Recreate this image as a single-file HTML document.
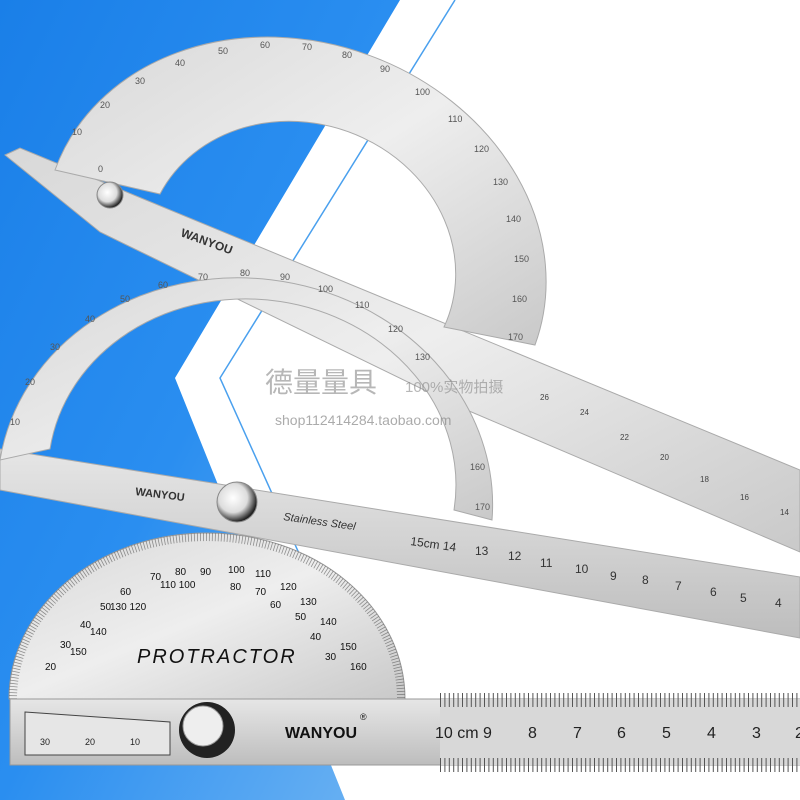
<!DOCTYPE html>
<html><head><style>
html,body{margin:0;padding:0;background:#fff;}
svg{display:block}
text{font-family:"Liberation Sans",sans-serif;}
</style></head><body>
<svg width="800" height="800" viewBox="0 0 800 800" xmlns="http://www.w3.org/2000/svg">
<defs>
<linearGradient id="bg" x1="0" y1="0" x2="1" y2="1">
<stop offset="0" stop-color="#1a7fe8"/><stop offset="0.5" stop-color="#2a8ef0"/><stop offset="1" stop-color="#6fb4f3"/>
</linearGradient>
<linearGradient id="steel" x1="0" y1="0" x2="1" y2="1">
<stop offset="0" stop-color="#d8d8d8"/><stop offset="0.5" stop-color="#eeeeee"/><stop offset="1" stop-color="#c9c9c9"/>
</linearGradient>
<linearGradient id="steel2" x1="0" y1="0" x2="0" y2="1">
<stop offset="0" stop-color="#e6e6e6"/><stop offset="0.5" stop-color="#d2d2d2"/><stop offset="1" stop-color="#bdbdbd"/>
</linearGradient>
<radialGradient id="knob" cx="0.4" cy="0.4" r="0.6">
<stop offset="0" stop-color="#fff"/><stop offset="0.6" stop-color="#ddd"/><stop offset="1" stop-color="#222"/>
</radialGradient>
</defs>
<rect width="800" height="800" fill="#fff"/>
<polygon points="0,0 400,0 175,378 345,800 0,800" fill="url(#bg)"/>
<polyline points="455,0 220,378 320,600" fill="none" stroke="#4aa0ee" stroke-width="1.5"/>

<!-- top protractor arm -->
<polygon points="5,155 20,148 800,470 800,552 455,405 100,232" fill="url(#steel)" stroke="#aaa"/>
<!-- top protractor semicircle band -->
<path d="M 55 170 A 255 215 20 0 1 535 345 L 444 327 A 157 140 20 0 0 160 194 Z" fill="url(#steel)" stroke="#aaa"/>
<g font-size="9" fill="#555">
<text x="98" y="172">0</text><text x="72" y="135">10</text><text x="100" y="108">20</text><text x="135" y="84">30</text><text x="175" y="66">40</text><text x="218" y="54">50</text><text x="260" y="48">60</text><text x="302" y="50">70</text><text x="342" y="58">80</text><text x="380" y="72">90</text><text x="415" y="95">100</text><text x="448" y="122">110</text><text x="474" y="152">120</text><text x="493" y="185">130</text><text x="506" y="222">140</text><text x="514" y="262">150</text><text x="512" y="302">160</text><text x="508" y="340">170</text>
</g>
<circle cx="110" cy="195" r="13" fill="url(#knob)" stroke="#888"/>
<text x="180" y="236" font-size="12" font-weight="bold" fill="#333" font-family="Liberation Serif" transform="rotate(20 180 236)">WANYOU</text>
<g font-size="8" fill="#444">
<text x="540" y="400">26</text><text x="580" y="415">24</text><text x="620" y="440">22</text><text x="660" y="460">20</text><text x="700" y="482">18</text><text x="740" y="500">16</text><text x="780" y="515">14</text>
</g>

<!-- middle arm -->
<polygon points="0,449 800,577 800,638 0,490" fill="url(#steel2)" stroke="#aaa"/>
<!-- middle semicircle band -->
<path d="M 0 460 A 248 220 7 0 1 492 520 L 454 510 A 204 180 7 0 0 50 449 Z" fill="url(#steel)" stroke="#aaa"/>
<g font-size="9" fill="#555">
<text x="10" y="425">10</text><text x="25" y="385">20</text><text x="50" y="350">30</text><text x="85" y="322">40</text><text x="120" y="302">50</text><text x="158" y="288">60</text><text x="198" y="280">70</text><text x="240" y="276">80</text><text x="280" y="280">90</text><text x="318" y="292">100</text><text x="355" y="308">110</text><text x="388" y="332">120</text><text x="415" y="360">130</text><text x="470" y="470">160</text><text x="475" y="510">170</text>
</g>
<circle cx="237" cy="502" r="20" fill="url(#knob)" stroke="#888"/>
<text x="135" y="495" font-size="11" font-weight="bold" fill="#333" font-family="Liberation Serif" transform="rotate(7 135 495)">WANYOU</text>
<text x="283" y="520" font-size="11" font-style="italic" fill="#333" transform="rotate(8 283 520)">Stainless  Steel</text>
<g font-size="12" fill="#333">
<text x="410" y="545" transform="rotate(8 410 545)">15cm 14</text><text x="475" y="555">13</text><text x="508" y="560">12</text><text x="540" y="567">11</text><text x="575" y="573">10</text><text x="610" y="580">9</text><text x="642" y="584">8</text><text x="675" y="590">7</text><text x="710" y="596">6</text><text x="740" y="602">5</text><text x="775" y="607">4</text>
</g>

<!-- bottom protractor -->
<path d="M 9 699 A 198 166 0 0 1 405 699 Z" fill="url(#steel)" stroke="#999"/>
<path d="M 13 699 A 194 162 0 0 1 401 699" fill="none" stroke="#444" stroke-width="8" stroke-dasharray="0.8 2.2" opacity="0.55"/>
<g font-size="10" fill="#111">
<text x="200" y="575">90</text><text x="228" y="573">100</text><text x="255" y="577">110</text><text x="175" y="575">80</text><text x="150" y="580">70</text><text x="120" y="595">60</text><text x="100" y="610">50</text><text x="80" y="628">40</text><text x="60" y="648">30</text><text x="45" y="670">20</text>
<text x="160" y="588">110 100</text><text x="110" y="610">130 120</text><text x="90" y="635">140</text><text x="70" y="655">150</text>
<text x="280" y="590">120</text><text x="300" y="605">130</text><text x="320" y="625">140</text><text x="340" y="650">150</text><text x="350" y="670">160</text>
<text x="230" y="590">80</text><text x="255" y="595">70</text><text x="270" y="608">60</text><text x="295" y="620">50</text><text x="310" y="640">40</text><text x="325" y="660">30</text>
</g>
<text x="137" y="663" font-size="20" font-style="italic" fill="#111" letter-spacing="2">PROTRACTOR</text>
<rect x="10" y="699" width="790" height="66" fill="url(#steel2)" stroke="#999"/>
<polygon points="25,712 170,722 170,755 25,755" fill="#e6e6e6" stroke="#444"/>
<circle cx="207" cy="730" r="28" fill="#222"/>
<circle cx="203" cy="726" r="20" fill="#eee" stroke="#999"/>
<text x="285" y="738" font-size="16" font-weight="bold" fill="#111" font-family="Liberation Serif">WANYOU</text>
<text x="360" y="720" font-size="9" fill="#111">®</text>
<rect x="440" y="699" width="360" height="66" fill="#d8d8d8"/>
<g font-size="16" fill="#222">
<text x="435" y="738">10 cm 9</text><text x="528" y="738">8</text><text x="573" y="738">7</text><text x="617" y="738">6</text><text x="662" y="738">5</text><text x="707" y="738">4</text><text x="752" y="738">3</text><text x="795" y="738">2</text>
</g>
<path d="M 440 700 H 800" stroke="#555" stroke-width="14" stroke-dasharray="1 3.4"/>
<path d="M 440 765 H 800" stroke="#555" stroke-width="14" stroke-dasharray="1 3.4"/>
<g font-size="9" fill="#222"><text x="40" y="745">30</text><text x="85" y="745">20</text><text x="130" y="745">10</text></g>

<!-- watermark -->
<text x="265" y="392" font-size="28" fill="#888" opacity="0.6" font-family="Liberation Serif,'Noto Serif CJK SC',serif">德量量具</text>
<text x="405" y="392" font-size="15" fill="#888" opacity="0.6" font-family="Liberation Serif,'Noto Serif CJK SC',serif">100%实物拍摄</text>
<text x="275" y="425" font-size="14" fill="#888" opacity="0.7" font-family="Liberation Serif,serif">shop112414284.taobao.com</text>
</svg>
</body></html>
